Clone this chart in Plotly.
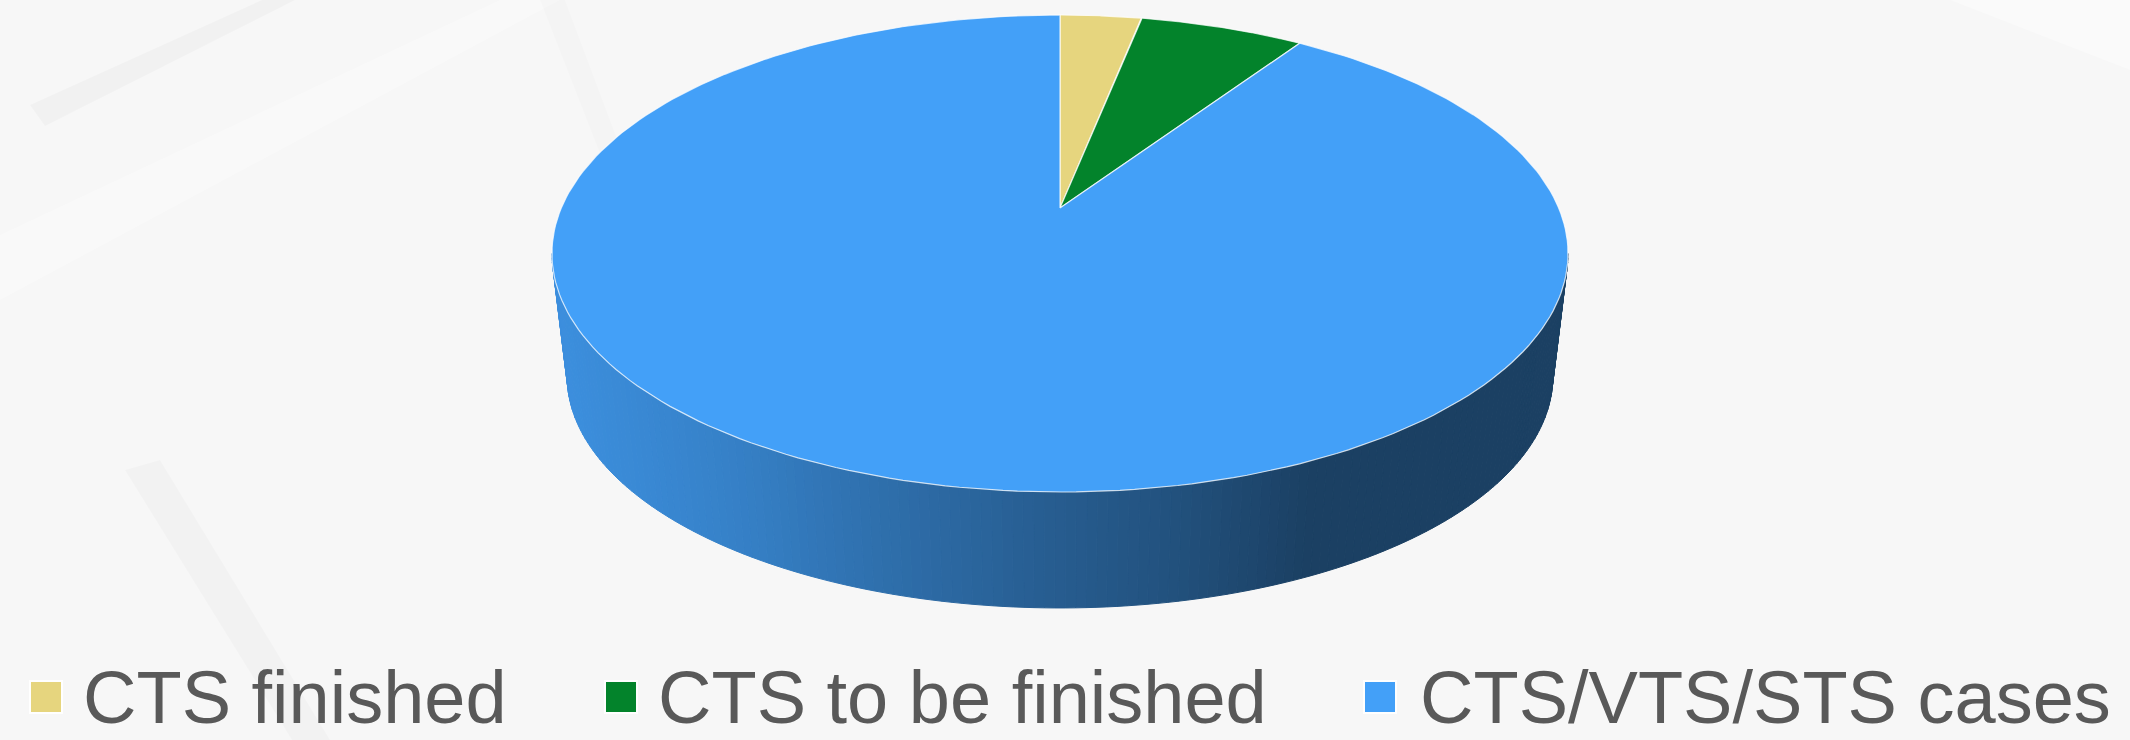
import numpy as np
import plotly.graph_objects as go

# ---- data ----
categories = ["CTS finished", "CTS to be finished", "CTS/VTS/STS cases"]
values = [3.1, 6.3, 90.6]
colors = ["#e6d57e", "#03832b", "#43a0f8"]

# ---- canvas / pie geometry (pixel units) ----
W, H = 2130, 740
APEX_X, APEX_Y = 1060.0, 208.0     # projected centre of the top face
A, B, E = 498.7, 229.8, 0.1908     # perspective projection of the unit circle
DEPTH_SCALE = 0.97                 # bottom face is a bit further from the eye
BOTTOM_APEX_Y = 332.5

TEXT_COLOR = "#595959"
FONT = "Liberation Sans, Arial, sans-serif"


def top_point(theta):
    """Top-face point for angle theta (radians, clockwise from 12 o'clock)."""
    u, v = np.sin(theta), np.cos(theta)
    d = 1.0 + E * v
    return APEX_X + A * u / d, APEX_Y - B * v / d


def bottom_point(theta):
    x, y = top_point(theta)
    return (APEX_X + DEPTH_SCALE * (x - APEX_X),
            BOTTOM_APEX_Y + DEPTH_SCALE * (y - APEX_Y))


def hex_rgb(h):
    h = h.lstrip("#")
    return tuple(int(h[i:i + 2], 16) for i in (0, 2, 4))


# shading of the curved side by screen x: light on the left, dark on the right
shade_x = [560, 720, 870, 1020, 1170, 1240, 1310, 1580]
shade_val = [0.89, 0.81, 0.70, 0.60, 0.51, 0.455, 0.40, 0.40]

fig = go.Figure()

# slice angle ranges
total = float(sum(values))
bounds = np.concatenate([[0.0], np.cumsum(values) / total * 2 * np.pi])

# visible part of the side: front half between the silhouette points
vis_lo = np.arccos(-E)
vis_hi = 2 * np.pi - vis_lo

step = np.radians(1.0)
for i, (cat, col) in enumerate(zip(categories, colors)):
    lo, hi = max(bounds[i], vis_lo), min(bounds[i + 1], vis_hi)
    if hi <= lo:
        continue
    n = max(1, int(np.ceil((hi - lo) / step)))
    edges = np.linspace(lo, hi, n + 1)
    base = hex_rgb(col)
    for t0, t1 in zip(edges[:-1], edges[1:]):
        ts = np.linspace(t0, t1, 4)
        tx, ty = top_point(ts)
        bx, by = bottom_point(ts[::-1])
        xs = np.concatenate([tx, bx, tx[:1]])
        ys = np.concatenate([ty, by, ty[:1]])
        f = np.interp(np.mean(tx), shade_x, shade_val)
        c = "rgb({},{},{})".format(*[int(round(ch * f)) for ch in base])
        fig.add_trace(go.Scatter(
            x=xs, y=ys, mode="lines", fill="toself",
            fillcolor=c, line=dict(color=c, width=1),
            hoverinfo="skip", showlegend=False))

# top face slices
for i, (cat, col, val) in enumerate(zip(categories, colors, values)):
    ts = np.linspace(bounds[i], bounds[i + 1], 240)
    ax, ay = top_point(ts)
    xs = np.concatenate([[APEX_X], ax, [APEX_X]])
    ys = np.concatenate([[APEX_Y], ay, [APEX_Y]])
    fig.add_trace(go.Scatter(
        x=xs, y=ys, mode="lines", fill="toself", fillcolor=col,
        line=dict(color="rgba(255,255,255,0.75)", width=1.2),
        name=cat, text=f"{cat}: {val}", hoverinfo="text", showlegend=False))

# legend: swatches and labels along the bottom
legend_swatch_x = [46, 621, 1380]
legend_text_x = [81, 656, 1418]
legend_y = 697
for cat, col, sx, tx in zip(categories, colors, legend_swatch_x, legend_text_x):
    fig.add_trace(go.Scatter(
        x=[sx], y=[legend_y], mode="markers",
        marker=dict(symbol="square", size=32, color=col,
                    line=dict(color="white", width=2)),
        hoverinfo="skip", showlegend=False))
    fig.add_annotation(
        x=tx, y=legend_y, xref="x", yref="y", text=cat, showarrow=False,
        xanchor="left", yanchor="middle",
        font=dict(family=FONT, size=74, color=TEXT_COLOR))

# faint backdrop decoration
bg_shapes = [
    ("M 30 105 L 262 0 L 295 0 L 45 126 Z", "rgba(0,0,0,0.022)"),
    ("M 0 235 L 500 0 L 560 0 L 0 300 Z", "rgba(255,255,255,0.3)"),
    ("M 125 470 L 160 460 L 330 740 L 292 740 Z", "rgba(0,0,0,0.018)"),
    ("M 540 0 L 565 0 L 640 200 L 620 205 Z", "rgba(0,0,0,0.012)"),
    ("M 1950 0 L 2130 0 L 2130 70 Z", "rgba(255,255,255,0.35)"),
]
for path, fc in bg_shapes:
    fig.add_shape(type="path", path=path, xref="x", yref="y",
                  fillcolor=fc, line=dict(width=0), layer="below")

fig.update_layout(
    width=W, height=H,
    margin=dict(l=0, r=0, t=0, b=0),
    paper_bgcolor="#f7f7f7", plot_bgcolor="#f7f7f7",
    showlegend=False,
    xaxis=dict(range=[0, W], visible=False, fixedrange=True),
    yaxis=dict(range=[H, 0], visible=False, fixedrange=True),
)

fig.write_html("out.html")
